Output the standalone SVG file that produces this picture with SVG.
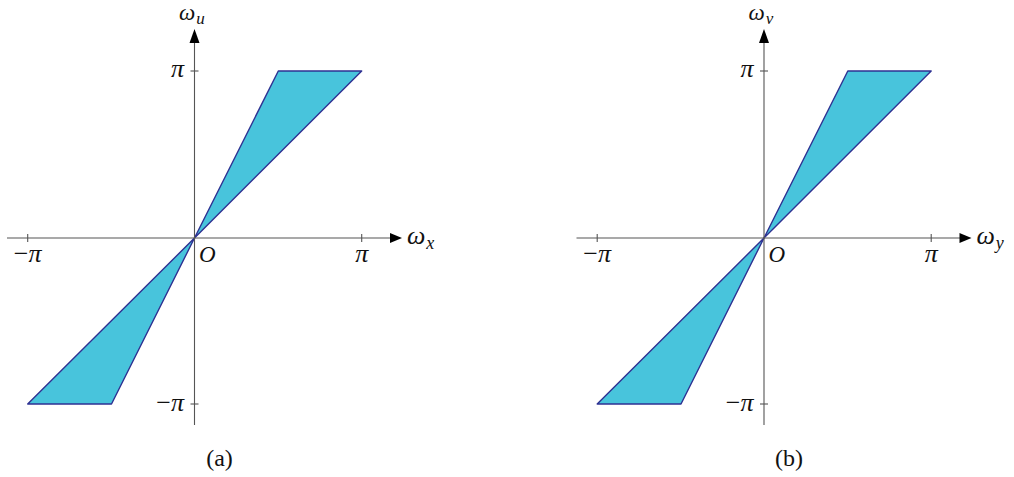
<svg xmlns="http://www.w3.org/2000/svg" width="1014" height="477" viewBox="0 0 1014 477">
<defs>
<g id="axes" stroke="#555" stroke-width="1.1">
<line x1="7" y1="238" x2="392" y2="238"/>
<line x1="194.5" y1="425" x2="194.5" y2="42"/>
<line x1="27.7" y1="234" x2="27.7" y2="242"/>
<line x1="361.7" y1="234" x2="361.7" y2="242"/>
<line x1="190.5" y1="71" x2="198.5" y2="71"/>
<line x1="190.5" y1="404" x2="198.5" y2="404"/>
<polygon points="402,238 390,233 390,243" fill="#000" stroke="none"/>
<polygon points="194.5,29 189.5,43 199.5,43" fill="#000" stroke="none"/>
</g>
<g id="region" fill="#48C4DC" stroke="#2E3192" stroke-width="1.4" stroke-linejoin="round">
<polygon points="194.5,238 278.3,71 361.7,71"/>
<polygon points="194.5,238 111.5,404 27.7,404"/>
</g>
</defs>
<g id="plot-a">
<use id="region-a" href="#region"/>
<use id="axes-a" href="#axes"/>
<g id="labels-a" fill="#111" font-family="Liberation Serif" font-size="26" font-style="italic">
<text x="179" y="20" font-size="23">ω<tspan font-size="17" dx="1" dy="4">u</tspan></text>
<text x="407" y="244">ω<tspan font-size="18" dx="1" dy="5">x</tspan></text>
<text x="184" y="77" text-anchor="end">π</text>
<text x="184" y="411" text-anchor="end"><tspan font-style="normal">−</tspan>π</text>
<text x="27.7" y="262" text-anchor="middle"><tspan font-style="normal">−</tspan>π</text>
<text x="361.7" y="262" text-anchor="middle">π</text>
<text x="199" y="262" font-size="23">O</text>
<text x="219.5" y="466" text-anchor="middle" font-size="24" font-style="normal">(a)</text>
</g>
</g>
<g id="plot-b" transform="translate(569.5,0)">
<use id="region-b" href="#region"/>
<use id="axes-b" href="#axes"/>
<g id="labels-b" fill="#111" font-family="Liberation Serif" font-size="26" font-style="italic">
<text x="179" y="20" font-size="23">ω<tspan font-size="17" dx="1" dy="4">v</tspan></text>
<text x="407" y="244">ω<tspan font-size="18" dx="1" dy="5">y</tspan></text>
<text x="184" y="77" text-anchor="end">π</text>
<text x="184" y="411" text-anchor="end"><tspan font-style="normal">−</tspan>π</text>
<text x="27.7" y="262" text-anchor="middle"><tspan font-style="normal">−</tspan>π</text>
<text x="361.7" y="262" text-anchor="middle">π</text>
<text x="199" y="262" font-size="23">O</text>
<text x="219.5" y="466" text-anchor="middle" font-size="24" font-style="normal">(b)</text>
</g>
</g>
</svg>
